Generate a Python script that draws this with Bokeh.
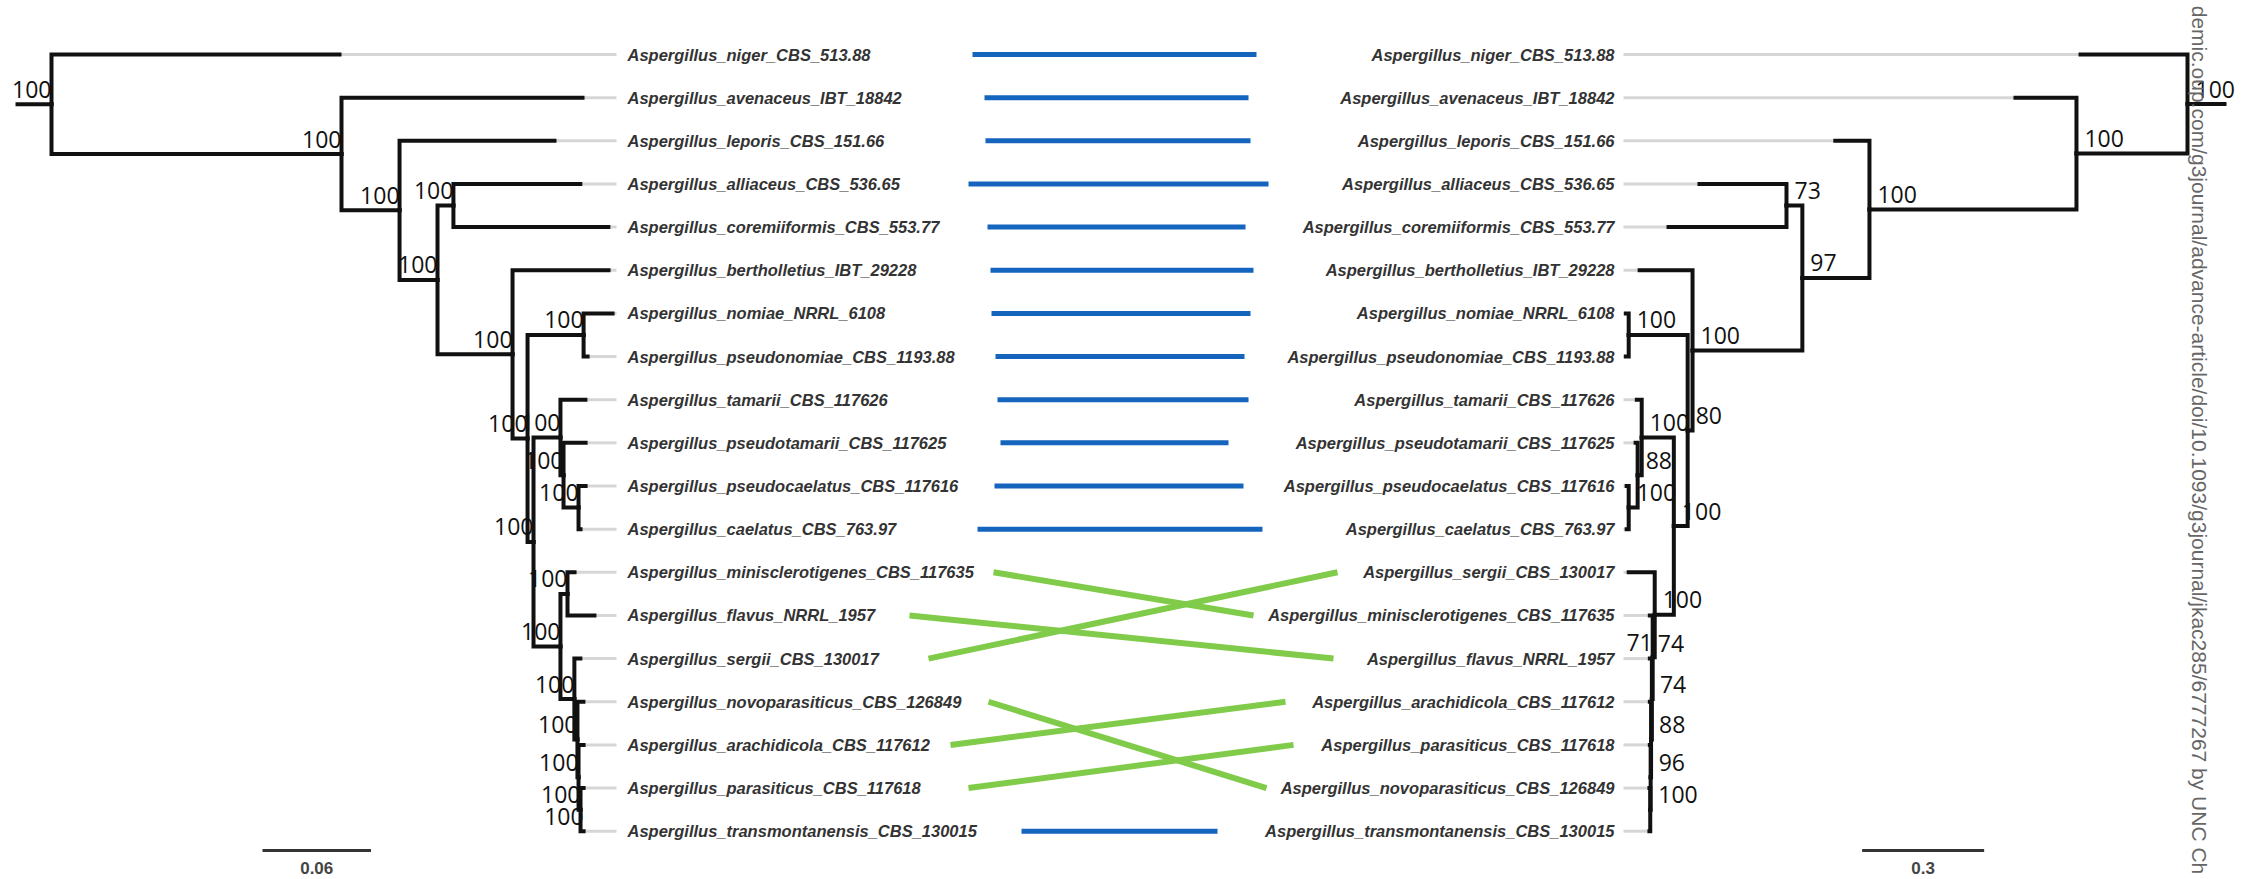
import math
from bokeh.plotting import figure
from bokeh.models import Range1d, ColumnDataSource
from bokeh.core.properties import value
from bokeh.embed import file_html
from bokeh.resources import INLINE

# ---------------------------------------------------------------- data
TAXON_NAMES = {
    "niger": "Aspergillus_niger_CBS_513.88",
    "avenaceus": "Aspergillus_avenaceus_IBT_18842",
    "leporis": "Aspergillus_leporis_CBS_151.66",
    "alliaceus": "Aspergillus_alliaceus_CBS_536.65",
    "coremiiformis": "Aspergillus_coremiiformis_CBS_553.77",
    "bertholletius": "Aspergillus_bertholletius_IBT_29228",
    "nomiae": "Aspergillus_nomiae_NRRL_6108",
    "pseudonomiae": "Aspergillus_pseudonomiae_CBS_1193.88",
    "tamarii": "Aspergillus_tamarii_CBS_117626",
    "pseudotamarii": "Aspergillus_pseudotamarii_CBS_117625",
    "pseudocaelatus": "Aspergillus_pseudocaelatus_CBS_117616",
    "caelatus": "Aspergillus_caelatus_CBS_763.97",
    "minisclerotigenes": "Aspergillus_minisclerotigenes_CBS_117635",
    "flavus": "Aspergillus_flavus_NRRL_1957",
    "sergii": "Aspergillus_sergii_CBS_130017",
    "novoparasiticus": "Aspergillus_novoparasiticus_CBS_126849",
    "arachidicola": "Aspergillus_arachidicola_CBS_117612",
    "parasiticus": "Aspergillus_parasiticus_CBS_117618",
    "transmontanensis": "Aspergillus_transmontanensis_CBS_130015",
}

# left tree: (parent, child, branch length), children listed top to bottom
LEFT_EDGES = [
    ("root", "niger", 0.1593), ("root", "a", 0.1604),
    ("a", "avenaceus", 0.1333), ("a", "b", 0.0321),
    ("b", "leporis", 0.0857), ("b", "c", 0.0210),
    ("c", "d", 0.0088), ("c", "e", 0.0415),
    ("d", "alliaceus", 0.0702), ("d", "coremiiformis", 0.0857),
    ("e", "bertholletius", 0.0531), ("e", "f", 0.0083),
    ("f", "g", 0.0310), ("f", "h", 0.0033),
    ("g", "nomiae", 0.0160), ("g", "pseudonomiae", 0.0022),
    ("h", "i", 0.0149), ("h", "j", 0.0149),
    ("i", "tamarii", 0.0138), ("i", "x", 0.0017),
    ("x", "pseudotamarii", 0.0122), ("x", "l", 0.0083),
    ("l", "pseudocaelatus", 0.0039), ("l", "caelatus", 0.0011),
    ("j", "m", 0.0039), ("j", "n", 0.0077),
    ("m", "minisclerotigenes", 0.0039), ("m", "flavus", 0.0149),
    ("n", "sergii", 0.0033), ("n", "o", 0.0017),
    ("o", "novoparasiticus", 0.0033), ("o", "p", 0.0006),
    ("p", "arachidicola", 0.0028), ("p", "q", 0.0011),
    ("q", "parasiticus", 0.0017), ("q", "transmontanensis", 0.0017),
]
LEFT_ROOT_STUB = 0.0188
LEFT_SUPPORT = [
    ("root", 100), ("a", 100), ("b", 100), ("c", 100), ("d", 100),
    ("e", 100), ("f", 100), ("g", 100), ("h", 100), ("i", 100),
    ("x", 100), ("l", 100), ("j", 100), ("m", 100), ("n", 100),
    ("o", 100), ("p", 100), ("q", 100), ("transmontanensis", 100),
]

# right tree (drawn mirrored)
RIGHT_EDGES = [
    ("root", "niger", 0.263), ("root", "a", 0.273),
    ("a", "avenaceus", 0.150), ("a", "b", 0.509),
    ("b", "leporis", 0.084), ("b", "c", 0.165),
    ("c", "d", 0.039), ("c", "e", 0.270),
    ("d", "alliaceus", 0.214), ("d", "coremiiformis", 0.290),
    ("e", "bertholletius", 0.130), ("e", "f", 0.012),
    ("f", "g", 0.145), ("f", "h", 0.034),
    ("g", "nomiae", 0.007), ("g", "pseudonomiae", 0.007),
    ("h", "i", 0.079), ("h", "j", 0.047),
    ("i", "tamarii", 0.012), ("i", "x", 0.010),
    ("x", "pseudotamarii", 0.005), ("x", "l", 0.022),
    ("l", "pseudocaelatus", 0.005), ("l", "caelatus", 0.005),
    ("j", "sergii", 0.064), ("j", "k", 0.005),
    ("k", "minisclerotigenes", 0.007), ("k", "m", 0.002),
    ("m", "flavus", 0.005), ("m", "o", 0.002),
    ("o", "arachidicola", 0.003), ("o", "p", 0.001),
    ("p", "parasiticus", 0.002), ("p", "q", 0.001),
    ("q", "novoparasiticus", 0.002), ("q", "transmontanensis", 0.002),
]
RIGHT_ROOT_STUB = 0.091
RIGHT_SUPPORT = [
    ("root", 100), ("a", 100), ("b", 100), ("c", 97), ("d", 73),
    ("e", 100), ("f", 80), ("g", 100), ("h", 100), ("i", 100),
    ("x", 88), ("l", 100), ("j", 100), ("k", 71), ("m", 74),
    ("o", 88), ("p", 96), ("q", 100), ("flavus", 74),
]

# hand-drawn connectors between the two label columns (page px)
LINK_START = {
    "niger": 972, "avenaceus": 984, "leporis": 985, "alliaceus": 968,
    "coremiiformis": 987, "bertholletius": 990, "nomiae": 991,
    "pseudonomiae": 995, "tamarii": 997, "pseudotamarii": 1000,
    "pseudocaelatus": 994, "caelatus": 977, "minisclerotigenes": 993,
    "flavus": 909, "sergii": 928, "novoparasiticus": 988,
    "arachidicola": 950, "parasiticus": 968, "transmontanensis": 1021,
}
LINK_END = {
    "niger": 1256, "avenaceus": 1248, "leporis": 1250, "alliaceus": 1268,
    "coremiiformis": 1245, "bertholletius": 1253, "nomiae": 1250,
    "pseudonomiae": 1244, "tamarii": 1248, "pseudotamarii": 1228,
    "pseudocaelatus": 1243, "caelatus": 1262, "minisclerotigenes": 1253,
    "flavus": 1333, "sergii": 1337, "novoparasiticus": 1266,
    "arachidicola": 1285, "parasiticus": 1293, "transmontanensis": 1217,
}

SCALE_LEFT = 0.06
SCALE_RIGHT = 0.3
WATERMARK = "demic.oup.com/g3journal/advance-article/doi/10.1093/g3journal/jkac285/6777267 by UNC Ch"

# ---------------------------------------------------------------- layout
W, H = 2242, 879
TOP_PX, ROW_PX = 54, 43.15
LEFT_ROOT_PX, LEFT_PX_PER_UNIT = 51, 1808
RIGHT_ROOT_PX, RIGHT_PX_PER_UNIT = 2187, 406.7
LEFT_LEADER_END_PX, LEFT_LABEL_PX = 616, 627
RIGHT_LEADER_END_PX, RIGHT_LABEL_PX = 1623, 1614
LEFT_SCALE_X0, RIGHT_SCALE_X0 = 0.1167, 0.5
SCALE_BAR_ROW, SCALE_TEXT_ROW = 18.45, 18.86
WATERMARK_PX = 2199
# support labels written on the tip side of their node to avoid crowding
RIGHT_LABELS_TIPWARD = {"k"}

BRANCH_COLOR = "#111111"
LEADER_COLOR = "#d6d6d6"
LABEL_COLOR = "#333333"
SAME_COLOR = "#1565be"
MOVED_COLOR = "#80cb4a"


def tree_layout(edges):
    children, length = {}, {}
    for parent, child, bl in edges:
        children.setdefault(parent, []).append(child)
        length[child] = bl
    x, y, order = {"root": 0.0}, {}, []

    def walk(node):
        if node not in children:
            y[node] = len(order)
            order.append(node)
            return
        for c in children[node]:
            x[c] = x[node] + length[c]
            walk(c)
        ys = [y[c] for c in children[node]]
        y[node] = (min(ys) + max(ys)) / 2

    walk("root")
    return x, y, order


lx, ly, left_order = tree_layout(LEFT_EDGES)
rx, ry, right_order = tree_layout(RIGHT_EDGES)

p = figure(width=W, height=H,
           x_range=Range1d(0, W),
           y_range=Range1d((H - TOP_PX) / ROW_PX, -TOP_PX / ROW_PX),
           output_backend="svg", toolbar_location=None,
           x_axis_location=None, y_axis_location=None,
           min_border=0, background_fill_color="white",
           border_fill_color="white")
p.grid.visible = False
p.outline_line_color = None
p.extra_x_ranges = {
    "left": Range1d(-LEFT_ROOT_PX / LEFT_PX_PER_UNIT,
                    (W - LEFT_ROOT_PX) / LEFT_PX_PER_UNIT),
    "right": Range1d(RIGHT_ROOT_PX / RIGHT_PX_PER_UNIT,
                     (RIGHT_ROOT_PX - W) / RIGHT_PX_PER_UNIT),
}


def draw_tree(edges, x, y, order, stub, support, rng, leader_end, side,
              tipward=()):
    # grey leaders from tip to the label column
    p.multi_line(xs=[[x[t], leader_end] for t in order],
                 ys=[[y[t], y[t]] for t in order],
                 line_color=LEADER_COLOR, line_width=3, x_range_name=rng)
    # elbow branches
    xs = [[x[a], x[a], x[b]] for a, b, _ in edges]
    ys = [[y[a], y[b], y[b]] for a, b, _ in edges]
    xs.append([-stub, 0.0])
    ys.append([y["root"], y["root"]])
    p.multi_line(xs=xs, ys=ys, line_color=BRANCH_COLOR, line_width=4,
                 line_join="miter", line_cap="square", x_range_name=rng)
    # support values sit just above the branch leading into each node
    normal_align = "right" if side == "left" else "left"
    flipped_align = "left" if side == "left" else "right"
    src = ColumnDataSource(dict(
        x=[x[n] for n, _ in support],
        y=[y[n] for n, _ in support],
        t=[str(v) for _, v in support],
        align=[flipped_align if n in tipward else normal_align
               for n, _ in support],
        dx=[0 if (side == "left") != (n in tipward) else 8
            for n, _ in support]))
    p.text(x="x", y="y", text="t", source=src, x_range_name=rng,
           text_font=value("Open Sans"), text_font_size=value("23px"),
           text_color="#111111", text_align="align",
           text_baseline="middle", x_offset="dx", y_offset=-15)


draw_tree(LEFT_EDGES, lx, ly, left_order, LEFT_ROOT_STUB, LEFT_SUPPORT, "left",
          (LEFT_LEADER_END_PX - LEFT_ROOT_PX) / LEFT_PX_PER_UNIT, "left")
draw_tree(RIGHT_EDGES, rx, ry, right_order, RIGHT_ROOT_STUB, RIGHT_SUPPORT, "right",
          (RIGHT_ROOT_PX - RIGHT_LEADER_END_PX) / RIGHT_PX_PER_UNIT, "right",
          RIGHT_LABELS_TIPWARD)

# taxon labels
label_style = dict(text_font=value("Liberation Sans"),
                   text_font_size=value("16.5px"),
                   text_font_style="bold italic", text_color=LABEL_COLOR,
                   text_baseline="middle")
p.text(x=[LEFT_LABEL_PX] * len(left_order), y=[ly[t] for t in left_order],
       text=[TAXON_NAMES[t] for t in left_order], text_align="left",
       **label_style)
p.text(x=[RIGHT_LABEL_PX] * len(right_order), y=[ry[t] for t in right_order],
       text=[TAXON_NAMES[t] for t in right_order], text_align="right",
       **label_style)

# connectors: blue where the taxon keeps its row, green where it moves
link_src = ColumnDataSource(dict(
    x0=[LINK_START[t] for t in left_order],
    x1=[LINK_END[t] for t in left_order],
    y0=[ly[t] for t in left_order],
    y1=[ry[t] for t in left_order],
    c=[SAME_COLOR if ly[t] == ry[t] else MOVED_COLOR for t in left_order],
    w=[5 if ly[t] == ry[t] else 6 for t in left_order],
))
p.segment(x0="x0", y0="y0", x1="x1", y1="y1", source=link_src,
          line_color="c", line_width="w")

# scale bars
p.segment(x0=[LEFT_SCALE_X0], x1=[LEFT_SCALE_X0 + SCALE_LEFT],
          y0=[SCALE_BAR_ROW], y1=[SCALE_BAR_ROW], line_color="#333333",
          line_width=3, x_range_name="left")
p.segment(x0=[RIGHT_SCALE_X0], x1=[RIGHT_SCALE_X0 + SCALE_RIGHT],
          y0=[SCALE_BAR_ROW], y1=[SCALE_BAR_ROW], line_color="#333333",
          line_width=3, x_range_name="right")
scale_text = dict(text_font=value("Liberation Sans"),
                  text_font_size=value("17px"), text_font_style="bold",
                  text_color="#444444", text_align="center",
                  text_baseline="middle")
p.text(x=[LEFT_SCALE_X0 + SCALE_LEFT / 2], y=[SCALE_TEXT_ROW],
       text=[f"{SCALE_LEFT:g}"], x_range_name="left", **scale_text)
p.text(x=[RIGHT_SCALE_X0 + SCALE_RIGHT / 2], y=[SCALE_TEXT_ROW],
       text=[f"{SCALE_RIGHT:g}"], x_range_name="right", **scale_text)

# publisher margin note
p.text(x=[WATERMARK_PX], y=[(H / 2 - TOP_PX) / ROW_PX], text=[WATERMARK],
       angle=-math.pi / 2, text_font=value("Liberation Sans"),
       text_font_size=value("21px"), text_color="#666666",
       text_align="center", text_baseline="middle")

open("out.html", "w").write(file_html(p, INLINE))
